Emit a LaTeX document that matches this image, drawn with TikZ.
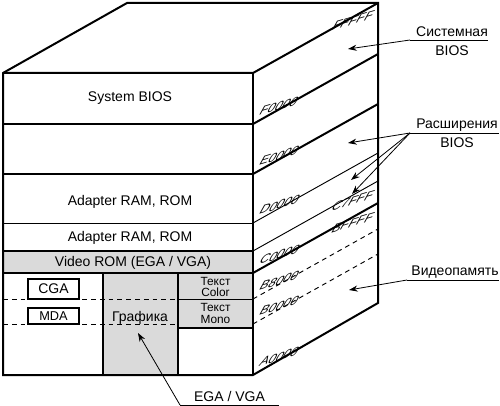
\documentclass[tikz,border=0pt]{standalone}
\usepackage{fontspec}
\setmainfont{Liberation Sans}
\usetikzlibrary{arrows.meta}
\definecolor{boxgray}{RGB}{218,218,218}
\begin{document}
\begin{tikzpicture}[x=0.75pt,y=-0.75pt,
  thickln/.style={line width=1.5pt, line join=miter},
  medln/.style={line width=1.25pt},
  thinln/.style={line width=0.7pt},
  dashln/.style={line width=0.7pt, dash pattern=on 3.6pt off 3pt},
  lbl/.style={font=\fontsize{10.5}{12}\selectfont, inner sep=0pt},
  smalllbl/.style={font=\fontsize{8.9}{8.3}\selectfont, inner sep=0pt, align=center},
  addr/.style={font=\fontsize{9.75}{10}\selectfont, inner sep=0pt, cm={1,0.3,0.56,1,(0,0)}},
  vbox/.style={draw, fill=white, line width=1.3pt, inner sep=0pt, minimum width=38pt},
  uline/.style={line width=0.7pt},
  arr/.style={line width=0.6pt, -{Stealth[length=6.5pt,width=4.6pt]}}
]
\useasboundingbox (0,0) rectangle (500,406);

% fills
\fill[boxgray] (3,251) rectangle (253,273);
\fill[boxgray] (103,273) rectangle (178,375);
\fill[boxgray] (178,273) rectangle (253,328);

% front face section lines
\draw[medln] (3,124) -- (253,124);
\draw[medln] (3,174) -- (253,174);
\draw[thinln] (3,223) -- (253,223);
\draw[thickln] (3,251) -- (253,251);
\draw[thickln] (3,273) -- (253,273);
\draw[thickln] (103,273) -- (103,375);
\draw[thickln] (178,273) -- (178,375);
\draw[thinln] (178,299) -- (253,299);
\draw[medln] (178,328) -- (253,328);
\draw[dashln] (3,299) -- (178,299);
\draw[dashln] (3,324) -- (178,324);

% side face lines
\draw[thickln] (253,124) -- (378,54);
\draw[thickln] (253,174) -- (378,104);
\draw[thinln] (253,223) -- (378,153);
\draw[thinln] (253,251) -- (378,181);
\draw[thickln] (253,273) -- (378,203);
\draw[dashln] (253,299) -- (378,229);
\draw[dashln] (253,324) -- (378,254);

% outline
\draw[thickln] (3,375) -- (3,73) -- (127,3) -- (378,3) -- (378,303) -- (253,375) -- cycle;
\draw[thickln] (3,73) -- (253,73) -- (378,3);
\draw[thickln] (253,73) -- (253,375);

% front labels
\node[lbl, anchor=base] (sysbios) at (130,102) {System BIOS};
\node[lbl, anchor=base] (adapt1) at (130,205) {Adapter RAM, ROM};
\node[lbl, anchor=base] (adapt2) at (130,242) {Adapter RAM, ROM};
\node[lbl, anchor=base] (vrom) at (133,266.5) {Video ROM (EGA / VGA)};
\node[vbox, minimum height=15pt, font=\fontsize{10.5}{12}\selectfont] (cga) at (53.5,289) {CGA};
\node[vbox, minimum height=12pt, font=\fontsize{9.6}{11}\selectfont] (mda) at (53.5,316) {MDA};
\node[lbl, anchor=base] (graf) at (140,321) {Графика};
\node[smalllbl] (tcolor) at (215.5,287) {Текст\\Color};
\node[smalllbl] (tmono) at (215.5,313.5) {Текст\\Mono};

% address labels
\node[addr, anchor=base west] (aF) at (258,116) {F0000};
\node[addr, anchor=base west] (aE) at (258,166) {E0000};
\node[addr, anchor=base west] (aD) at (258,215) {D0000};
\node[addr, anchor=base west] (aC) at (258,265) {C0000};
\node[addr, anchor=base west] (aB8) at (258,291) {B8000};
\node[addr, anchor=base west] (aB0) at (258,316) {B0000};
\node[addr, anchor=base west] (aA) at (258,367) {A0000};
\node[addr, anchor=base east] (aFF) at (371,19) {FFFFF};
\node[addr, anchor=base east] (aC7) at (371,199) {C7FFF};
\node[addr, anchor=base east] (aBF) at (371,221) {BFFFF};

% annotations
\node[lbl, anchor=base] (sys) at (452,37) {Системная};
\node[lbl, anchor=base] (sysb) at (452,56) {BIOS};
\coordinate (sysL) at (410,40);
\coordinate (sysR) at (488,40);
\coordinate (sysT) at (348,49);
\draw[uline] (sysL) -- (sysR);
\draw[arr] (sysL) -- (sysT);

\node[lbl, anchor=base] (ext) at (457,129) {Расширения};
\node[lbl, anchor=base] (extb) at (457,148) {BIOS};
\coordinate (extL) at (410,133);
\coordinate (extR) at (499,133);
\coordinate (extT1) at (348,143);
\coordinate (extT2) at (351,180);
\coordinate (extT3) at (352,194);
\draw[uline] (extL) -- (extR);
\draw[arr] (extL) -- (extT1);
\draw[arr] (extL) -- (extT2);
\draw[arr] (extL) -- (extT3);

\node[lbl, anchor=base] (vmem) at (455,275) {Видеопамять};
\coordinate (vmemL) at (407,280);
\coordinate (vmemR) at (499,280);
\coordinate (vmemT) at (349,290);
\draw[uline] (vmemL) -- (vmemR);
\draw[arr] (vmemL) -- (vmemT);

\node[lbl, anchor=base] (ega) at (229.5,401) {EGA / VGA};
\coordinate (egaL) at (180,405);
\coordinate (egaR) at (279,405);
\coordinate (egaT) at (138,333);
\draw[uline] (egaL) -- (egaR);
\draw[arr] (egaL) -- (egaT);
\end{tikzpicture}
\end{document}
